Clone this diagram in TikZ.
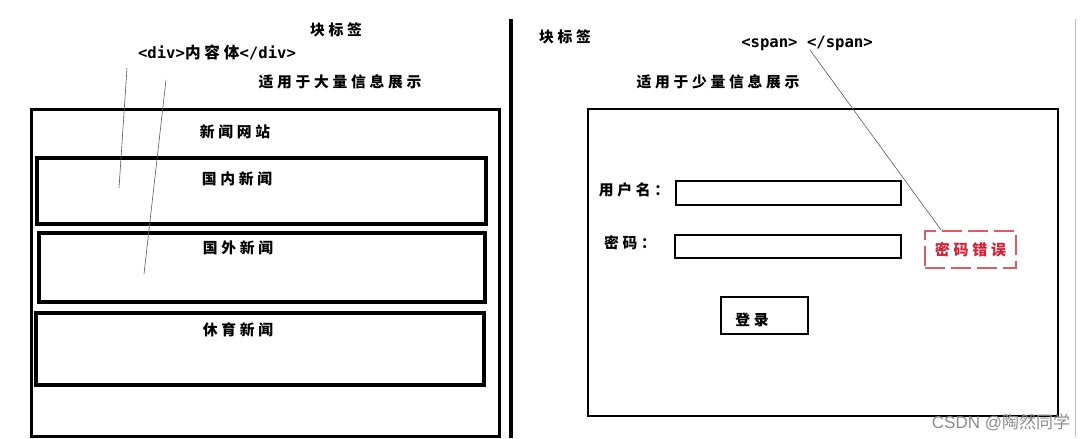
\documentclass[tikz,border=0pt]{standalone}
\usepackage{fontspec}
\usepackage{tikz}
\usetikzlibrary{positioning}
\newfontfamily\cjk[LetterSpace=25]{Noto Sans CJK SC}
\newfontfamily\tagmono{DejaVu Sans Mono}
\newfontfamily\markfont{Noto Sans CJK SC}
\newfontfamily\marklatin{Liberation Sans}
\definecolor{errred}{RGB}{214,30,52}
\definecolor{errdash}{RGB}{222,90,100}
\definecolor{leadgray}{RGB}{90,90,90}
\tikzset{
  frame/.style={draw=black,line width=3pt,inner sep=0pt},
  newsbox/.style={draw=black,line width=4pt,inner sep=0pt},
  field/.style={draw=black,line width=2.5pt,inner sep=0pt},
  errbox/.style={draw=errdash,line width=1.2pt,dash pattern=on 20pt off 6pt,inner sep=0pt,
                 text=errred,font=\cjk\bfseries\fontsize{15}{17}\selectfont},
  lab/.style={inner sep=0pt,font=\cjk\bfseries\fontsize{14.8}{17}\selectfont},
  tag/.style={inner sep=0pt,font=\tagmono\bfseries\fontsize{15.6}{17}\selectfont},
  leader/.style={leadgray,line width=0.6pt},
  watermark/.style={inner sep=0pt,text=black!45,font=\fontsize{17}{19}\selectfont},
}
\begin{document}
\begin{tikzpicture}[x=1pt,y=-1pt]
  \path[use as bounding box,fill=white] (0,0) rectangle (1087,439);

  % divider and right edge
  \coordinate (divtop) at (511,19);
  \coordinate (divbot) at (511,438);
  \draw[line width=4pt] (divtop) -- (divbot);
  \coordinate (edgetop) at (1075,19);
  \coordinate (edgebot) at (1075,437);
  \draw[black!25,line width=1pt] (edgetop) -- (edgebot);

  % left: block tags
  \node[lab] (blocktitle) at (336,30) {块标签};
  \node[tag] (divtag) at (217,52) {<div>{\cjk\bfseries 内容体}</div>};
  \node[lab] (bigdesc) at (340,82) {适用于大量信息展示};

  \node[frame,minimum width=468,minimum height=327] (site) at (265,272.5) {};
  \node[lab] (sitetitle) at (235,132) {新闻网站};
  \node[newsbox,minimum width=449,minimum height=66] (home) at (261.5,191) {};
  \node[lab] (hometitle) at (237,179) {国内新闻};
  \node[newsbox,minimum width=446,minimum height=69] (world) at (262,267.5) {};
  \node[lab] (worldtitle) at (238,248) {国外新闻};
  \node[newsbox,minimum width=448,minimum height=72] (sport) at (260,349) {};
  \node[lab] (sporttitle) at (238,330) {休育新闻};

  \coordinate (leadA1) at (127,68);
  \coordinate (leadA2) at (119,188);
  \coordinate (leadB1) at (166,80);
  \coordinate (leadB2) at (144,274);
  \draw[leader] (leadA1) -- (leadA2);
  \draw[leader] (leadB1) -- (leadB2);

  % right: inline tags
  \node[lab] (inlinetitle) at (565,37) {块标签};
  \node[tag] (spantag) at (807,43) {<span> </span>};
  \node[lab] (smalldesc) at (718,82) {适用于少量信息展示};

  \node[frame,line width=2.5pt,minimum width=470,minimum height=307] (login) at (823,262.5) {};
  \node[lab] (userlab) at (634,190) {用户名：};
  \node[field,minimum width=225,minimum height=24] (userfield) at (788.5,193) {};
  \node[lab] (pwdlab) at (630,243) {密码：};
  \node[field,minimum width=226,minimum height=23] (pwdfield) at (788,246.5) {};
  \node[field,line width=2.2pt,minimum width=87,minimum height=37] (loginbtn) at (764.5,315.5) {};
  \node[lab] (logintext) at (752,320) {登录};
  \node[errbox,minimum width=91,minimum height=37] (pwderr) at (970.5,249.5) {密码错误};

  \coordinate (spanfoot) at (810,50);
  \coordinate (errtip) at ([xshift=17]pwderr.north west);
  \draw[leader] (spanfoot) -- (errtip);

  \node[watermark] (mark) at (1001,422) {{\marklatin CSDN @}{\markfont 陶然同学}};
\end{tikzpicture}
\end{document}
